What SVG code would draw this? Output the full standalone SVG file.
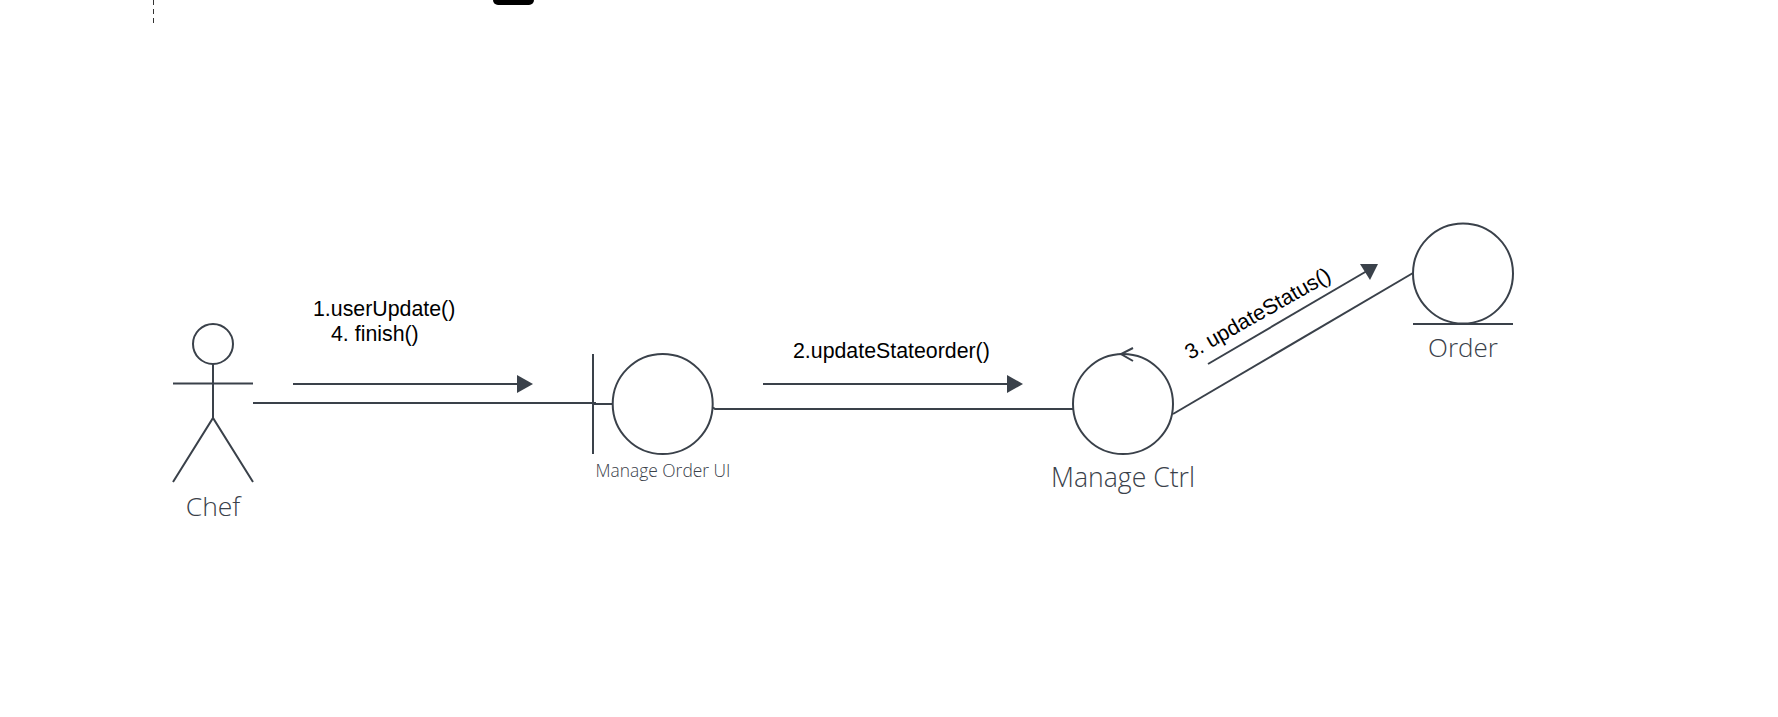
<svg xmlns="http://www.w3.org/2000/svg" width="1778" height="717" viewBox="0 0 1778 717">
<style>
.s{fill:none;stroke:#3a414a;stroke-width:2}
.c{fill:#fff;stroke:#3a414a;stroke-width:2}
.h{fill:#3a414a;stroke:none}
.n{font-family:"Open Sans","Noto Sans",sans-serif;font-weight:300;fill:#3a414a;text-anchor:middle}
.m{font-family:"Liberation Sans",Arial,sans-serif;font-size:21.33px;fill:#000}
</style>
<rect width="1778" height="717" fill="#fff"/>
<g id="top-fragments">
<line x1="153.5" y1="0" x2="153.5" y2="25" stroke="#333" stroke-width="1" stroke-dasharray="5 4"/>
<rect x="493" y="-20" width="41" height="25" rx="5" fill="#000"/>
</g>
<g id="connectors">
<line class="s" x1="253" y1="403" x2="596" y2="403"/>
<line class="s" x1="593" y1="404" x2="613" y2="404"/>
<polyline class="s" points="713,407.5 715,409 1073,409"/>
<line class="s" x1="1173" y1="414" x2="1413" y2="273"/>
<line class="s" x1="293" y1="384" x2="520" y2="384"/>
<polygon class="h" points="517,375 533,384 517,393"/>
<line class="s" x1="763" y1="384" x2="1010" y2="384"/>
<polygon class="h" points="1007,375 1023,384 1007,393"/>
<line class="s" x1="1208" y1="364" x2="1372" y2="268"/>
<polygon class="h" points="1360,264 1378,264 1370,280"/>
</g>
<g id="chef">
<circle class="s" cx="213" cy="344" r="20"/>
<line class="s" x1="213" y1="364" x2="213" y2="418"/>
<line class="s" x1="173" y1="383.5" x2="253" y2="383.5"/>
<polyline class="s" points="173,482 213,418 253,482"/>
<text class="n" x="213" y="516" font-size="26.5">Chef</text>
</g>
<g id="manage-order-ui">
<line class="s" x1="593" y1="354" x2="593" y2="454"/>
<circle class="c" cx="662.7" cy="404" r="50"/>
<text class="n" x="663" y="476.5" font-size="17.4">Manage Order UI</text>
</g>
<g id="manage-ctrl">
<circle class="c" cx="1123" cy="404" r="50"/>
<polyline class="s" points="1133,348 1121,354 1133,361"/>
<text class="n" x="1123" y="487" font-size="26.6">Manage Ctrl</text>
</g>
<g id="order">
<circle class="c" cx="1463" cy="273.5" r="50"/>
<line class="s" x1="1413" y1="324" x2="1513" y2="324"/>
<text class="n" x="1463" y="357" font-size="26">Order</text>
</g>
<g id="labels">
<text class="m" x="313" y="315.5">1.userUpdate()</text>
<text class="m" x="331" y="341">4. finish()</text>
<text class="m" x="793" y="358">2.updateStateorder()</text>
<text class="m" transform="translate(1190 360) rotate(-29.5)">3. updateStatus()</text>
</g>
</svg>
